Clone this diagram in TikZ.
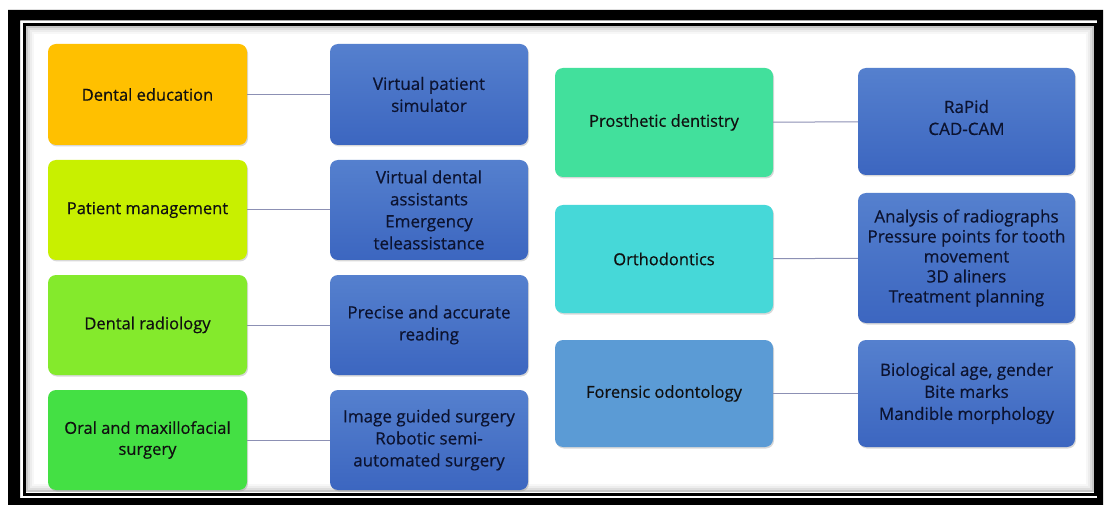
\documentclass[tikz,border=0pt]{standalone}
\usepackage{fontspec}
\setmainfont{Open Sans}[FakeBold=0.5]
\usetikzlibrary{shadows}
\definecolor{cEdu}{HTML}{FFC000}
\definecolor{cPat}{HTML}{C8F000}
\definecolor{cRad}{HTML}{84EA2C}
\definecolor{cOral}{HTML}{44E044}
\definecolor{cPros}{HTML}{42E09C}
\definecolor{cOrth}{HTML}{46D8D8}
\definecolor{cFor}{HTML}{5B9BD5}
\definecolor{cBlueTop}{HTML}{5580CE}
\definecolor{cBlueBot}{HTML}{3C66C0}
\definecolor{cLine}{HTML}{8C90B4}
\definecolor{txtDark}{HTML}{101010}
\definecolor{txtNavy}{HTML}{0C1330}
\begin{document}
\begin{tikzpicture}[x=1pt,y=-1pt,
  box/.style={rounded corners=8pt, align=center, inner sep=2pt,
    font=\fontsize{17}{22}\selectfont,
    drop shadow={opacity=0.3, shadow xshift=1pt, shadow yshift=-1.5pt}},
  cat/.style={box, text=txtDark, font=\fontsize{16.5}{21}\selectfont},
  item/.style={box, text=txtNavy, top color=cBlueTop, bottom color=cBlueBot},
  conn/.style={draw=cLine, line width=1pt}
]
\useasboundingbox (0,0) rectangle (1106,505);
\fill[white] (0,0) rectangle (1106,505);
% frame
\fill[black, even odd rule] (8,10) rectangle (1103,505) (20,20.5) rectangle (1097,498);
\draw[black, line width=3pt] (24,24.5) rectangle (1095.5,494);
\foreach \o/\op in {3/0.22,5/0.13,7/0.07,9/0.03}
  \draw[black, opacity=\op, line width=2pt] (24+\o,24.5+\o) rectangle (1095.5-\o,494-\o);

% left categories
\node[cat, fill=cEdu, minimum width=199pt, minimum height=101pt] (edu) at (147.5,94.5) {Dental education};
\node[cat, fill=cPat, minimum width=199pt, minimum height=100pt] (pat) at (147.5,210) {Patient management};
\node[cat, fill=cRad, minimum width=199pt, minimum height=100pt] (rad) at (147.5,325) {Dental radiology};
\node[cat, fill=cOral, minimum width=199pt, minimum height=100pt] (oral) at (147.5,440) {Oral and maxillofacial\\surgery};

% left items
\node[item, minimum width=198pt, minimum height=101pt] (vps) at (429,94.5) {Virtual patient\\simulator};
\node[item, minimum width=198pt, minimum height=100pt] (vda) at (429,210) {Virtual dental\\assistants\\Emergency\\teleassistance};
\node[item, minimum width=198pt, minimum height=100pt] (par) at (429,325) {Precise and accurate\\reading};
\node[item, minimum width=198pt, minimum height=100pt] (igs) at (429,440) {Image guided surgery\\Robotic semi-\\automated surgery};

% right categories
\node[cat, fill=cPros, minimum width=218pt, minimum height=109pt] (pros) at (664,122.5) {Prosthetic dentistry};
\node[cat, fill=cOrth, minimum width=218pt, minimum height=108pt] (orth) at (664,259) {Orthodontics};
\node[cat, fill=cFor, minimum width=218pt, minimum height=107pt] (for) at (664,393.5) {Forensic odontology};

% right items
\node[item, minimum width=217pt, minimum height=107pt] (rap) at (966.5,121.5) {RaPid\\CAD-CAM\\[-14pt]};
\node[item, minimum width=217pt, minimum height=130pt, font=\fontsize{17}{20}\selectfont] (ana) at (966.5,258) {Analysis of radiographs\\Pressure points for tooth\\movement\\3D aliners\\Treatment planning};
\node[item, minimum width=217pt, minimum height=107pt] (bio) at (966.5,393.5) {Biological age, gender\\Bite marks\\Mandible morphology};

% connectors
\draw[conn] (edu) -- (vps);
\draw[conn] (pat) -- (vda);
\draw[conn] (rad) -- (par);
\draw[conn] (oral) -- (igs);
\draw[conn] (pros) -- (rap);
\draw[conn] (orth) -- (ana);
\draw[conn] (for) -- (bio);
\end{tikzpicture}
\end{document}
